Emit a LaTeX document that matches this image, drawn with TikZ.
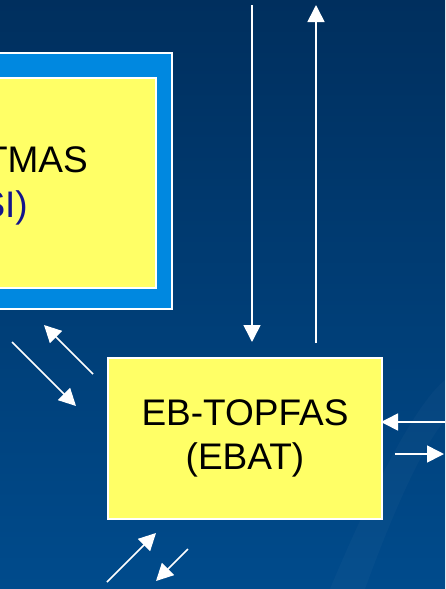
\documentclass[tikz,border=0pt]{standalone}
\usepackage{fontspec}
\setmainfont{Liberation Sans}
\usetikzlibrary{arrows.meta}
\definecolor{bgtop}{RGB}{0,47,94}
\definecolor{bgbot}{RGB}{0,75,140}
\definecolor{framebl}{RGB}{0,136,224}
\definecolor{boxyel}{RGB}{255,255,102}
\definecolor{navytxt}{RGB}{20,20,140}
\tikzset{
  flow/.style={draw=white, line width=1.6pt, -{Triangle[length=17pt,width=17pt]}},
  yelbox/.style={draw=white, line width=2pt, fill=boxyel},
  boxtext/.style={font=\fontsize{37}{44}\selectfont, inner sep=0pt}
}
\begin{document}
\begin{tikzpicture}[x=1pt,y=-1pt]
\clip (0,0) rectangle (445,589);
% background
\shade[top color=bgtop, bottom color=bgbot] (0,0) rectangle (445,589);
\fill[white, opacity=0.025] (330,589) .. controls (380,470) and (420,400) .. (445,380)
  -- (445,420) .. controls (420,450) and (390,520) .. (365,589) -- cycle;
% left box (cut by the margin)
\draw[draw=white, line width=2pt, fill=framebl] (-20,53) rectangle (172,309);
\node[yelbox, minimum width=177pt, minimum height=210pt, anchor=north east] (atmas) at (157,77) {};
\node[boxtext, anchor=base east] (atmas1) at (88,172) {TMAS};
\node[boxtext, anchor=base east, text=navytxt] (atmas2) at (28,217) {SI)};
% EBAT box
\node[yelbox, minimum width=274pt, minimum height=161pt, anchor=north west] (ebat) at (107,357) {};
\node[boxtext, align=center] (ebatlbl) at (ebat.center) {EB-TOPFAS\\(EBAT)};
% arrow ends
\coordinate (vd1) at (252,5);
\coordinate (vd2) at (252,342);
\coordinate (vu1) at (316,343);
\coordinate (vu2) at (316,5);
\coordinate (la1) at (12,342);
\coordinate (la2) at (76,406);
\coordinate (lb1) at (93,374);
\coordinate (lb2) at (44,325);
\coordinate (ba1) at (107,582);
\coordinate (ba2) at (156,533);
\coordinate (bb1) at (188,549);
\coordinate (bb2) at (156,581);
\coordinate (ra1) at (446,422);
\coordinate (ra2) at (381,422);
\coordinate (rb1) at (395,454);
\coordinate (rb2) at (444,454);
% arrows
\draw[flow] (vd1) -- (vd2);
\draw[flow] (vu1) -- (vu2);
\draw[flow] (la1) -- (la2);
\draw[flow] (lb1) -- (lb2);
\draw[flow] (ba1) -- (ba2);
\draw[flow] (bb1) -- (bb2);
\draw[flow] (ra1) -- (ra2);
\draw[flow] (rb1) -- (rb2);
\end{tikzpicture}
\end{document}
